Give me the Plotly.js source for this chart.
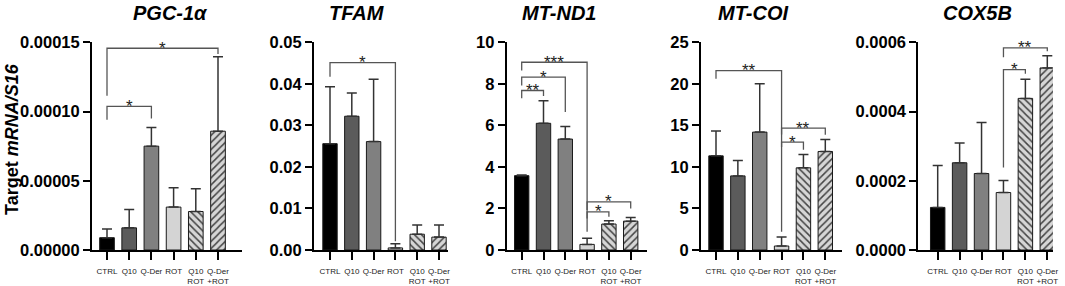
<!DOCTYPE html>
<html>
<head>
<meta charset="utf-8">
<script src="https://cdn.plot.ly/plotly-3.0.1.min.js"></script>
<style>html,body{margin:0;padding:0;background:#fff}#chart{width:1065px;height:286px}</style>
</head>
<body>
<div id="chart"></div>
<script>
// ---------- data ----------
const categories = ["CTRL", "Q10", "Q-Der", "ROT", "Q10<br>ROT", "Q-Der<br>+ROT"];
const genes = ["PGC-1α", "TFAM", "MT-ND1", "MT-COI", "COX5B"];

const pgcMean = [0.0000089, 0.0000160, 0.0000750, 0.0000310, 0.0000278, 0.0000858];
const pgcSD   = [0.0000063, 0.0000132, 0.0000135, 0.0000140, 0.0000164, 0.0000537];

const tfamMean = [0.0256, 0.0322, 0.0261, 0.0005, 0.0038, 0.0031];
const tfamSD   = [0.0137, 0.0056, 0.0150, 0.0010, 0.0022, 0.0029];

const nd1Mean = [3.58, 6.10, 5.34, 0.27, 1.25, 1.39];
const nd1SD   = [0.03, 1.08, 0.61, 0.29, 0.16, 0.18];

const coiMean = [11.33, 8.92, 14.19, 0.48, 9.89, 11.86];
const coiSD   = [2.98, 1.85, 5.81, 1.09, 1.61, 1.44];

const coxMean = [0.000123, 0.000252, 0.000221, 0.000166, 0.000438, 0.000526];
const coxSD   = [0.000121, 0.000057, 0.000147, 0.000035, 0.000055, 0.000035];

// y tick labels
const pgcTicks  = [0, 0.00005, 0.00010, 0.00015];
const tfamTicks = [0, 0.01, 0.02, 0.03, 0.04, 0.05];
const nd1Ticks  = [0, 2, 4, 6, 8, 10];
const coiTicks  = [0, 5, 10, 15, 20, 25];
const coxTicks  = [0, 0.0002, 0.0004, 0.0006];

// significance brackets: [groupA, groupB, level, leftLegBottom, rightLegBottom, label]
const pgcSig  = [[0, 2, 0.0001037, 0.0000940, 0.0000950, "*"], [0, 5, 0.0001457, 0.0001114, 0.0001415, "*"]];
const tfamSig = [[0, 3, 0.0451, 0.0417, 0.0021, "*"]];
const nd1Sig  = [[0, 3, 9.04, 8.64, 0.88, "***"], [0, 2, 8.32, 7.92, 6.64, "*"], [0, 1, 7.68, 7.31, 7.41, "**"],
                 [3, 4, 1.84, 1.52, 1.60, "*"], [3, 5, 2.32, 1.92, 2.00, "*"]];
const coiSig  = [[0, 3, 21.6, 20.6, 2.2, "**"], [3, 4, 12.98, 12.4, 12.06, "*"], [3, 5, 14.67, 13.9, 13.87, "**"]];
const coxSig  = [[3, 4, 0.000521, 0.000238, 0.000509, "*"], [3, 5, 0.000584, 0.000557, 0.000574, "**"]];

// ---------- styling ----------
const W = 1065, H = 286;
const barColors = ["#000000", "#5b5b5b", "#808080", "#d4d4d4", "#d6d6d6", "#d6d6d6"];
const patShapes = ["", "", "", "", "\\", "/"];
const panels = [
  {mean: pgcMean,  sd: pgcSD,  ticks: pgcTicks,  fmt: ".5f", sig: pgcSig,  px: [92, 242],     c0: 107,   step: 22.2,  title: 170},
  {mean: tfamMean, sd: tfamSD, ticks: tfamTicks, fmt: ".2f", sig: tfamSig, px: [314, 448],    c0: 330,   step: 21.8,  title: 357},
  {mean: nd1Mean,  sd: nd1SD,  ticks: nd1Ticks,  fmt: "d",   sig: nd1Sig,  px: [506.7, 646.7], c0: 521.7, step: 21.8, title: 559},
  {mean: coiMean,  sd: coiSD,  ticks: coiTicks,  fmt: "d",   sig: coiSig,  px: [701, 841.7],  c0: 716,   step: 21.86, title: 753},
  {mean: coxMean,  sd: coxSD,  ticks: coxTicks,  fmt: ".4f", sig: coxSig,  px: [918.3, 1053], c0: 937.7, step: 21.92, title: 977}
];
const yBottomPx = 250, yTopPx = 42.3;
const yDomain = [1 - yBottomPx / H, 1 - yTopPx / H];
const sans = "Liberation Sans, Arial, sans-serif";

const data = [];
const layout = {
  width: W, height: H, margin: {l: 0, r: 0, t: 0, b: 0},
  paper_bgcolor: "#fff", plot_bgcolor: "rgba(0,0,0,0)", showlegend: false,
  shapes: [], annotations: []
};

panels.forEach((p, k) => {
  const n = k === 0 ? "" : String(k + 1);
  const xs = categories.map((_, i) => i);
  data.push({
    type: "bar", x: xs, y: p.mean, width: 0.66,
    xaxis: "x" + n, yaxis: "y" + n,
    marker: {
      color: barColors,
      line: {color: "#1a1a1a", width: 1},
      pattern: {shape: patShapes, fillmode: "overlay", fgcolor: "#5a5a5a", fgopacity: 1, size: 5, solidity: 0.3}
    },
    error_y: {type: "data", symmetric: false, array: p.sd, arrayminus: p.sd.map(() => 0),
              color: "#333", thickness: 1.5, width: 5},
    hoverinfo: "skip"
  });
  const left = -(p.c0 - p.px[0]) / p.step;
  const right = 5 + (p.px[1] - (p.c0 + 5 * p.step)) / p.step;
  layout["xaxis" + n] = {
    domain: [p.px[0] / W, p.px[1] / W], range: [left, right], anchor: "y" + n,
    tickmode: "array", tickvals: xs, ticktext: categories, tickangle: 0, ticklabelstandoff: 4,
    ticks: "outside", ticklen: 8, tickwidth: 2, tickcolor: "#000",
    showline: true, linewidth: 2, linecolor: "#000", showgrid: false, zeroline: false,
    tickfont: {family: sans, size: 8, color: "#222"}, fixedrange: true
  };
  const top = p.ticks[p.ticks.length - 1];
  layout["yaxis" + n] = {
    domain: yDomain, range: [0, top], anchor: "x" + n,
    tickmode: "array", tickvals: p.ticks, tickformat: p.fmt,
    ticks: "outside", ticklen: 7, tickwidth: 2, tickcolor: "#000",
    showline: true, linewidth: 2, linecolor: "#000", showgrid: false, zeroline: false,
    tickfont: {family: sans, size: 16.5, color: "#000", weight: "bold"}, fixedrange: true
  };
  p.sig.forEach(s => {
    const [a, b, lvl, lb, rb, lab] = s;
    layout.shapes.push({
      type: "path", xref: "x" + n, yref: "y" + n,
      path: `M ${a},${lb} L ${a},${lvl} L ${b},${lvl} L ${b},${rb}`,
      line: {color: "#555", width: 1.3}
    });
    layout.annotations.push({
      xref: "x" + n, yref: "y" + n, x: (a + b) / 2, y: lvl, text: lab, showarrow: false,
      xanchor: "center", yanchor: "middle", yshift: 0,
      font: {family: sans, size: 17, color: "#222"}
    });
  });
  layout.annotations.push({
    xref: "paper", yref: "paper", x: p.title / W, y: 1 - 13 / H, text: "<b><i>" + genes[k] + "</i></b>",
    showarrow: false, xanchor: "center", yanchor: "middle",
    font: {family: sans, size: 20, color: "#000"}
  });
});

layout.annotations.push({
  xref: "paper", yref: "paper", x: 12 / W, y: 1 - 139 / H, text: "<b>Target <i>mRNA/S16</i></b>",
  textangle: -90, showarrow: false, xanchor: "center", yanchor: "middle",
  font: {family: sans, size: 18, color: "#000"}
});

Plotly.newPlot("chart", data, layout, {displayModeBar: false, staticPlot: true});
</script>
</body>
</html>
